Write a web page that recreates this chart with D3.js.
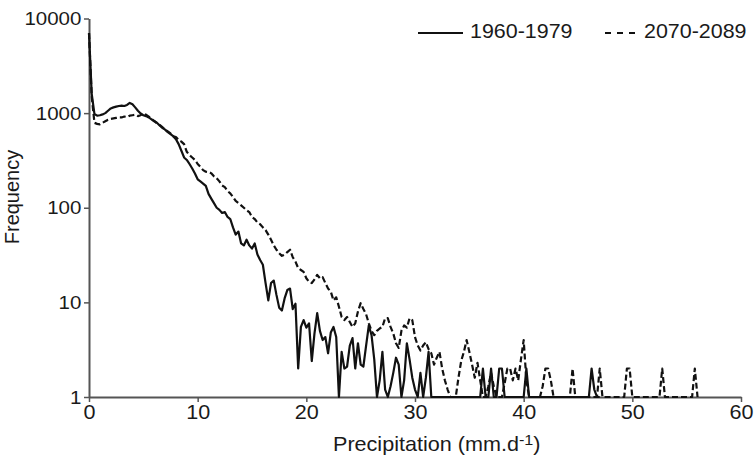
<!DOCTYPE html>
<html>
<head>
<meta charset="utf-8">
<script src="https://cdn.jsdelivr.net/npm/d3@7"></script>
<style>
  html, body { margin: 0; padding: 0; background: #fff; }
  svg { display: block; font-family: "Liberation Sans", Arial, sans-serif; }
</style>
</head>
<body>
<svg id="chart" width="756" height="461"></svg>
<script>
// Daily precipitation histograms, bins of 0.25 mm/d starting at 0.
// A count of 1 sits on the baseline of the log axis.
const binStep = 0.25;

const seriesNames = ["1960-1979", "2070-2089"];

const freq1960 = [
  7000, 1600, 980, 940, 950, 970, 1000, 1060,
  1120, 1150, 1170, 1190, 1200, 1190, 1220, 1280,
  1240, 1150, 1060, 990, 950, 930, 900, 860,
  820, 790, 740, 700, 670, 630, 600, 570,
  530, 470, 400, 340, 320, 290, 260, 230,
  200, 190, 180, 170, 140, 125, 112, 100,
  95, 88, 90, 80, 76, 62, 52, 56,
  42, 40, 46, 40, 37, 42, 32, 28,
  25, 16, 10.5, 16, 17, 12, 8.8, 8.2,
  11, 13.5, 14, 8.5, 9.7, 2.0, 5.5, 6.5,
  5.4, 6, 2.4, 4.7, 7.7, 5.0, 4.0, 4.3,
  2.9, 4.8, 5.5, 4.3, 1, 3.0, 2.0, 2.1,
  3.5, 4.2, 2.0, 3.7, 2.2, 2.1, 3.5, 5.7,
  4.5, 2.5, 1, 1.5, 3, 1.2, 1, 1.3,
  1.8, 2.6, 2.2, 1, 1.5, 3.7, 2.5, 1.6,
  1.2, 1, 1.8, 1, 1.6, 3, 1, 1,
  1, 1, 1, 1, 1, 1, 1, 1,
  1, 1, 1, 1, 1, 1, 1, 1,
  1, 2, 1, 1, 2, 1, 1, 2,
  2, 1, 1, 1, 1, 1, 1, 1,
  1, 2, 1, 1, 1, 1, 1, 1,
  1, 1, 1, 1, 1, 1, 1, 1,
  1, 1, 1, 1, 1, 1, 1, 1,
  1, 2, 1.2, 1, 1
];

const freq2070 = [
  7000, 1500, 790, 770, 760, 790, 820, 850,
  870, 880, 890, 900, 900, 920, 910, 940,
  950, 960, 930, 950, 1000, 960, 920, 870,
  830, 780, 750, 710, 670, 640, 610, 570,
  560, 520, 500, 470, 390, 360, 340, 320,
  290, 270, 250, 240, 238, 232, 215, 205,
  190, 172, 165, 150, 142, 130, 118, 112,
  106, 100, 94, 90, 80, 76, 70, 67,
  62, 58, 52, 46, 40, 36, 33, 31,
  32, 34, 36, 30, 27, 23, 22, 21,
  18, 16.5, 16, 17.5, 19.5, 18, 18.5, 16,
  14, 13, 10.5, 11.3, 9, 7, 6.5, 7,
  6.2, 5.5, 6, 8, 9.8, 8.5, 7.5, 6,
  5, 4.5, 5, 5.3, 5.5, 6.8, 6.8, 5.5,
  4.7, 3.7, 3.3, 5, 5.7, 5.4, 6.8, 6.5,
  4.3, 3.5, 3.1, 3.5, 3.8, 3.2, 2.9, 2.2,
  2.6, 3, 2, 1.5, 1.2, 1, 1, 1,
  1.6, 2.4, 3, 4, 3, 2.2, 1.6, 2.3,
  1.5, 1, 1, 1.3, 1.8, 1.3, 1, 1,
  1, 1.4, 2, 2, 1.5, 2, 1.5, 2.5,
  4, 1.5, 1, 1, 1, 1, 1, 1.3,
  2, 2, 1.5, 1, 1, 1, 1, 1,
  1, 1, 2, 1, 1, 1, 1, 1,
  1, 1, 1, 1, 2, 1, 1, 1,
  1, 1, 1, 1, 1, 1, 2, 2,
  1, 1, 1, 1, 1, 1, 1, 1,
  1, 1, 1, 2, 1, 1, 1, 1,
  1, 1, 1, 1, 1, 1, 1, 2,
  1
];

const xTicks = [0, 10, 20, 30, 40, 50, 60];
const yTicks = [1, 10, 100, 1000, 10000];

const svg = d3.select("#chart");
const plot = { left: 89, right: 741, top: 18.5, bottom: 397 };
const widen = "scale(1.08,1)";   // slightly wide lettering

const x = d3.scaleLinear().domain([0, 60]).range([plot.left, plot.right]);
const y = d3.scaleLog().domain([1, 10000]).range([plot.bottom, plot.top]);

const axisColor = "#555";
const textColor = "#1a1a1a";

// Axes
const gx = svg.append("g")
  .attr("transform", `translate(0,${plot.bottom})`)
  .call(d3.axisBottom(x).tickValues(xTicks).tickFormat(d3.format("d"))
    .tickSize(5).tickSizeOuter(0).tickPadding(3));

const gy = svg.append("g")
  .attr("transform", `translate(${plot.left},0)`)
  .call(d3.axisLeft(y).tickValues(yTicks).tickFormat(d3.format("d"))
    .tickSize(5).tickSizeOuter(0).tickPadding(2));

[gx, gy].forEach(g => {
  g.select(".domain").attr("stroke", axisColor).attr("stroke-width", 2);
  g.selectAll(".tick line").attr("stroke", axisColor).attr("stroke-width", 1.5);
  g.selectAll(".tick text").attr("fill", textColor)
    .attr("transform", widen)
    .style("font-family", "'Liberation Sans', Arial, sans-serif");
});
gx.selectAll(".tick text").style("font-size", "20px");
gy.selectAll(".tick text").style("font-size", "19px");

// Series lines
const line = d3.line()
  .x((d, i) => x(i * binStep))
  .y(d => y(Math.max(1, d)));

svg.append("path")
  .datum(freq2070)
  .attr("fill", "none")
  .attr("stroke", "#111")
  .attr("stroke-width", 2.2)
  .attr("stroke-dasharray", "6,3")
  .attr("stroke-linejoin", "round")
  .attr("d", line);

svg.append("path")
  .datum(freq1960)
  .attr("fill", "none")
  .attr("stroke", "#111")
  .attr("stroke-width", 2.2)
  .attr("stroke-linejoin", "round")
  .attr("d", line);

// Axis titles
svg.append("text")
  .attr("transform", "translate(19,197) rotate(-90)")
  .attr("text-anchor", "middle")
  .attr("fill", textColor)
  .style("font-size", "20px")
  .text("Frequency");

const xt = svg.append("g")
  .attr("transform", "translate(333,451)")
  .append("text")
  .attr("transform", widen)
  .attr("fill", textColor)
  .style("font-size", "20px");
xt.append("tspan").text("Precipitation (mm.d");
xt.append("tspan").attr("dy", -6).style("font-size", "15px").text("-1");
xt.append("tspan").attr("dy", 6).text(")");

// Legend
const legend = svg.append("g");
const legendItems = [
  { name: seriesNames[0], x1: 418, x2: 463, tx: 470, dash: null },
  { name: seriesNames[1], x1: 605, x2: 636, tx: 644, dash: "6,6" }
];
legendItems.forEach(item => {
  legend.append("line")
    .attr("x1", item.x1).attr("x2", item.x2)
    .attr("y1", 33).attr("y2", 33)
    .attr("stroke", "#111").attr("stroke-width", 2)
    .attr("stroke-dasharray", item.dash);
  legend.append("g")
    .attr("transform", `translate(${item.tx},38)`)
    .append("text")
    .attr("transform", "scale(1.1,1)")
    .attr("fill", textColor)
    .style("font-size", "19.5px")
    .text(item.name);
});
</script>
</body>
</html>
